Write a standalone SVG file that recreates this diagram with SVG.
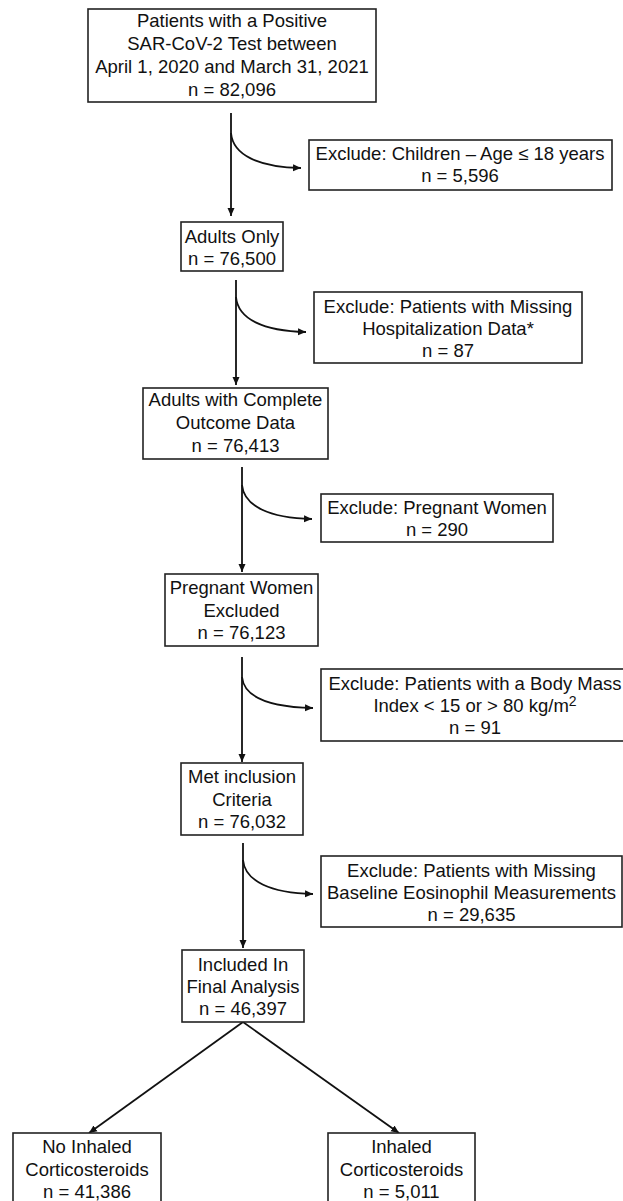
<svg xmlns="http://www.w3.org/2000/svg" width="623" height="1201" viewBox="0 0 623 1201">
<defs>
<marker id="ah" markerUnits="userSpaceOnUse" markerWidth="9" markerHeight="8" refX="8" refY="4" orient="auto">
<path d="M0,0.5 L8,4 L0,7.5 z" fill="#111"/>
</marker>
<style>
.box{fill:#fff;stroke:#222;stroke-width:1.6}
.t{font-family:"Liberation Sans",Arial,sans-serif;font-size:18.5px;fill:#111;text-anchor:middle}
.c{fill:none;stroke:#111;stroke-width:1.8}
</style>
</defs>
<rect width="623" height="1201" fill="#fff"/>
<g id="connectors">
<path class="c" d="M231,113 L231,216" marker-end="url(#ah)"/>
<path class="c" d="M231,133 C233,155 258,167 301,168" marker-end="url(#ah)"/>
<path class="c" d="M236,280 L236,385" marker-end="url(#ah)"/>
<path class="c" d="M236,297 C238,319 263,331 306,332" marker-end="url(#ah)"/>
<path class="c" d="M242,467 L242,572" marker-end="url(#ah)"/>
<path class="c" d="M242,485 C244,506 269,518 312,519" marker-end="url(#ah)"/>
<path class="c" d="M242,657 L242,762" marker-end="url(#ah)"/>
<path class="c" d="M242,677 C244,697 270,707 313,708" marker-end="url(#ah)"/>
<path class="c" d="M243,843 L243,948" marker-end="url(#ah)"/>
<path class="c" d="M243,860 C245,881 270,893 313,894" marker-end="url(#ah)"/>
<path class="c" d="M243,1022 L89,1133" marker-end="url(#ah)"/>
<path class="c" d="M243,1022 L399,1133" marker-end="url(#ah)"/>
</g>
<g id="n1">
<rect class="box" x="88" y="9" width="288" height="93"/>
<text class="t" x="232" y="27">Patients with a Positive</text>
<text class="t" x="232" y="50">SAR-CoV-2 Test between</text>
<text class="t" x="232" y="73">April 1, 2020 and March 31, 2021</text>
<text class="t" x="232" y="96">n = 82,096</text>
</g>
<g id="x1">
<rect class="box" x="309" y="140" width="303" height="50"/>
<text class="t" x="460" y="160">Exclude: Children – Age ≤ 18 years</text>
<text class="t" x="460" y="182">n = 5,596</text>
</g>
<g id="n2">
<rect class="box" x="181" y="222" width="102" height="49"/>
<text class="t" x="232" y="243">Adults Only</text>
<text class="t" x="232" y="265">n = 76,500</text>
</g>
<g id="x2">
<rect class="box" x="314" y="292" width="268" height="71"/>
<text class="t" x="448" y="313">Exclude: Patients with Missing</text>
<text class="t" x="448" y="335">Hospitalization Data*</text>
<text class="t" x="448" y="357">n = 87</text>
</g>
<g id="n3">
<rect class="box" x="143" y="388" width="185" height="71"/>
<text class="t" x="235.5" y="406">Adults with Complete</text>
<text class="t" x="235.5" y="429">Outcome Data</text>
<text class="t" x="235.5" y="452">n = 76,413</text>
</g>
<g id="x3">
<rect class="box" x="321" y="494" width="232" height="48"/>
<text class="t" x="437" y="514">Exclude: Pregnant Women</text>
<text class="t" x="437" y="536">n = 290</text>
</g>
<g id="n4">
<rect class="box" x="165" y="574" width="153" height="72"/>
<text class="t" x="241.5" y="594">Pregnant Women</text>
<text class="t" x="241.5" y="617">Excluded</text>
<text class="t" x="241.5" y="639">n = 76,123</text>
</g>
<g id="x4">
<rect class="box" x="321" y="669" width="310" height="72"/>
<text class="t" x="475" y="690">Exclude: Patients with a Body Mass</text>
<text class="t" x="475" y="712">Index &lt; 15 or &gt; 80 kg/m<tspan font-size="14" dy="-6">2</tspan></text>
<text class="t" x="475" y="734">n = 91</text>
</g>
<g id="n5">
<rect class="box" x="181" y="763" width="122" height="72"/>
<text class="t" x="242" y="783">Met inclusion</text>
<text class="t" x="242" y="806">Criteria</text>
<text class="t" x="242" y="828">n = 76,032</text>
</g>
<g id="x5">
<rect class="box" x="321" y="856" width="301" height="71"/>
<text class="t" x="471.5" y="877">Exclude: Patients with Missing</text>
<text class="t" x="471.5" y="899">Baseline Eosinophil Measurements</text>
<text class="t" x="471.5" y="921">n = 29,635</text>
</g>
<g id="n6">
<rect class="box" x="182" y="950" width="122" height="72"/>
<text class="t" x="243" y="971">Included In</text>
<text class="t" x="243" y="993">Final Analysis</text>
<text class="t" x="243" y="1015">n = 46,397</text>
</g>
<g id="n7">
<rect class="box" x="13" y="1133" width="148" height="80"/>
<text class="t" x="87" y="1153">No Inhaled</text>
<text class="t" x="87" y="1176">Corticosteroids</text>
<text class="t" x="87" y="1198">n = 41,386</text>
</g>
<g id="n8">
<rect class="box" x="328" y="1133" width="147" height="80"/>
<text class="t" x="401.5" y="1153">Inhaled</text>
<text class="t" x="401.5" y="1176">Corticosteroids</text>
<text class="t" x="401.5" y="1198">n = 5,011</text>
</g>
</svg>
